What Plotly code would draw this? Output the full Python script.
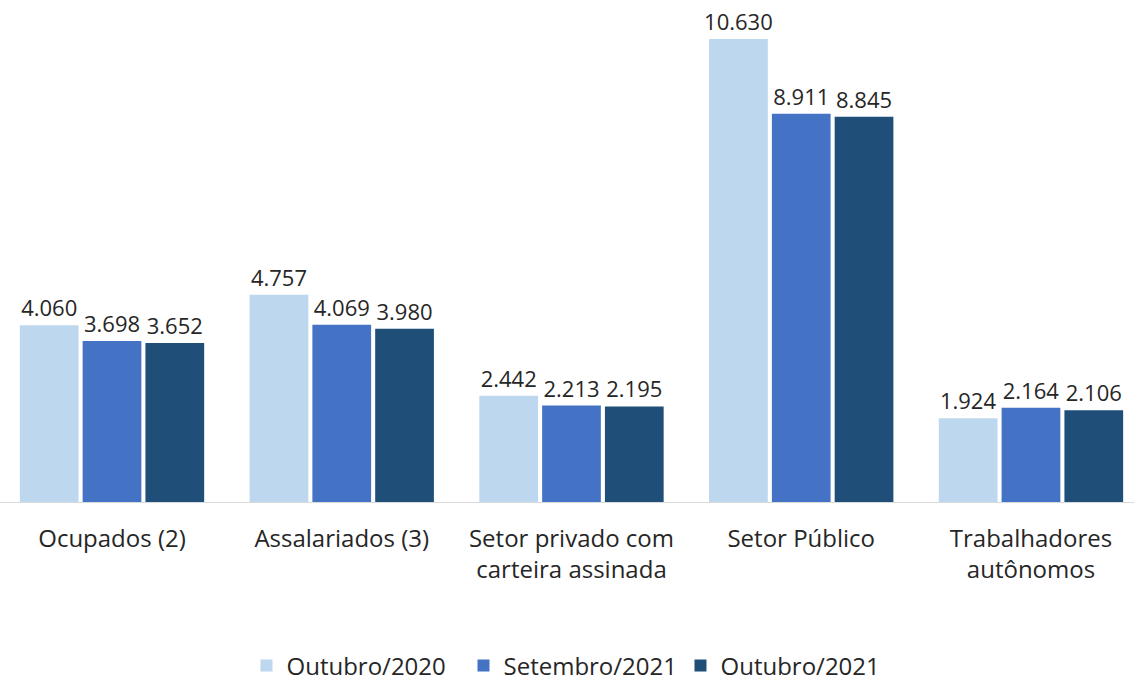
import plotly.graph_objects as go

categories = ["Ocupados (2)", "Assalariados (3)", "Setor privado com<br>carteira assinada",
              "Setor Público", "Trabalhadores<br>autônomos"]
series_names = ["Outubro/2020", "Setembro/2021", "Outubro/2021"]
out2020 = [4060, 4757, 2442, 10630, 1924]
set2021 = [3698, 4069, 2213, 8911, 2164]
out2021 = [3652, 3980, 2195, 8845, 2106]
colors = ["#BDD7EE", "#4472C4", "#1F4E79"]

def fmt(v):
    return f"{v:,}".replace(",", ".")

FONT = "Open Sans"
fig = go.Figure()
for name, vals, col in zip(series_names, [out2020, set2021, out2021], colors):
    fig.add_trace(go.Bar(
        name=name, x=list(range(len(categories))), y=vals,
        marker=dict(color=col, line=dict(width=0)),
        text=[fmt(v) for v in vals], textposition="outside",
        textfont=dict(size=22, color="#262626", family=FONT),
        constraintext="none",
        cliponaxis=False,
    ))

fig.update_layout(
    width=1134, height=681,
    margin=dict(l=0, r=0, t=10, b=179, autoexpand=False),
    paper_bgcolor="white", plot_bgcolor="white",
    barmode="group", bargap=0.18, bargroupgap=0.065,
    font=dict(family=FONT, size=24, color="#262626"),
    showlegend=True,
    legend=dict(orientation="h", x=0.5044, xanchor="center", y=-0.3333, yanchor="middle",
                font=dict(size=24, color="#262626"), traceorder="normal",
                entrywidth=172, entrywidthmode="pixels"),
    xaxis=dict(tickmode="array", tickvals=list(range(len(categories))), ticktext=categories,
               range=[-0.4875, 4.4484], showgrid=False, zeroline=False,
               showline=True, linecolor="#D9D9D9", linewidth=1,
               ticks="outside", ticklen=15, tickcolor="rgba(0,0,0,0)",
               tickfont=dict(size=24, color="#262626")),
    yaxis=dict(range=[0, 11295], visible=False, showgrid=False, zeroline=False),
)

fig.write_html("out.html", config={"displayModeBar": False},
               post_script="document.body.style.margin='0';document.body.style.overflow='hidden';")
